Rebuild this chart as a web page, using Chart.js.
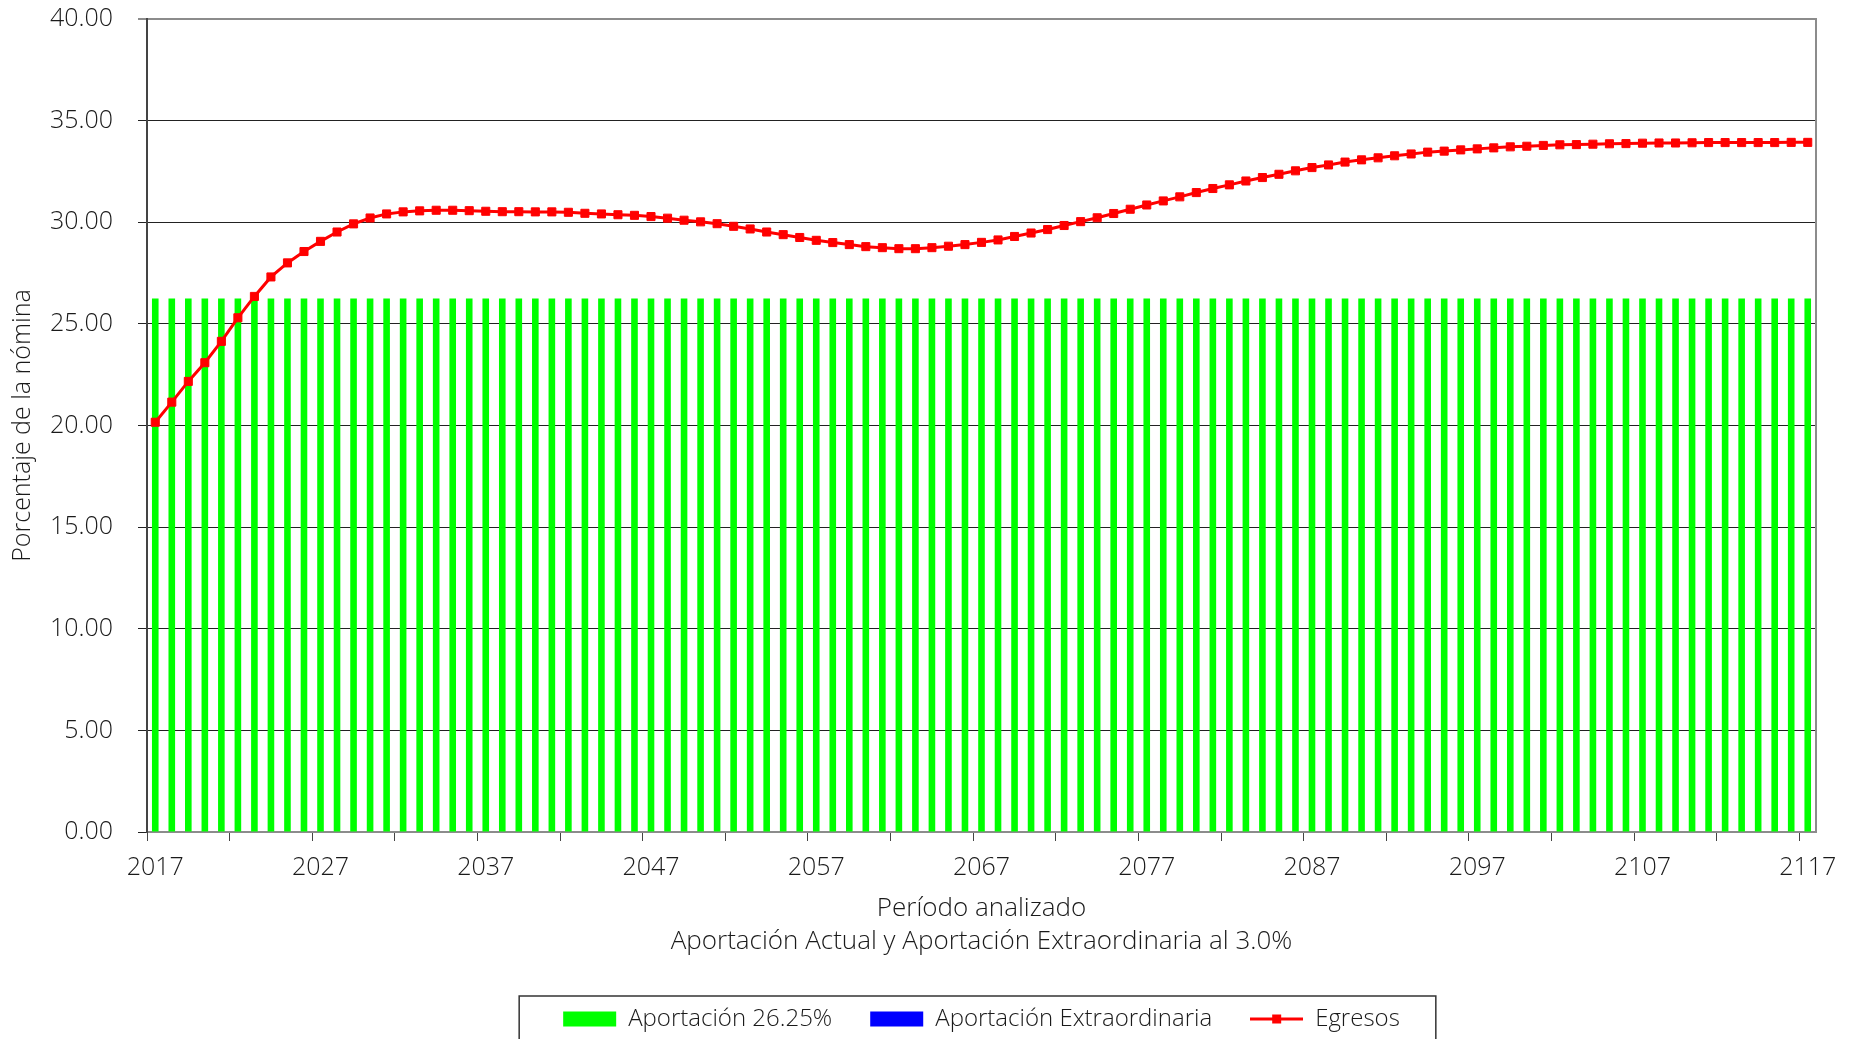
<!DOCTYPE html>
<html>
<head>
<meta charset="utf-8">
<script src="https://cdn.jsdelivr.net/npm/chart.js@4"></script>
<style>
  html, body { margin: 0; padding: 0; background: #fff; }
  #wrap { width: 1858px; height: 1039px; }
</style>
</head>
<body>
<div id="wrap"><canvas id="grafica"></canvas></div>
<script>
// años del periodo analizado
var anios = [];
for (var a = 2017; a <= 2117; a++) anios.push(String(a));

// aportación actual (26.25% constante)
var aportacion = anios.map(function () { return 26.25; });
// aportación extraordinaria (no se aprecia en la gráfica)
var extraordinaria = anios.map(function () { return 0; });

// egresos como porcentaje de la nómina
var egresos = [
  20.16, 21.15, 22.17, 23.09, 24.14, 25.30, 26.35, 27.31, 28.00, 28.56,
  29.06, 29.52, 29.92, 30.21, 30.41, 30.51, 30.56, 30.59, 30.59, 30.57,
  30.54, 30.52, 30.52, 30.51, 30.51, 30.49, 30.44, 30.41, 30.37, 30.34,
  30.28, 30.20, 30.10, 30.02, 29.93, 29.80, 29.67, 29.52, 29.39, 29.25,
  29.11, 29.00, 28.90, 28.80, 28.75, 28.70, 28.70, 28.75, 28.82, 28.90,
  29.01, 29.13, 29.30, 29.47, 29.64, 29.84, 30.03, 30.22, 30.43, 30.64,
  30.85, 31.05, 31.25, 31.46, 31.66, 31.84, 32.03, 32.20, 32.36, 32.53,
  32.69, 32.82, 32.96, 33.07, 33.17, 33.27, 33.36, 33.45, 33.50, 33.56,
  33.61, 33.66, 33.71, 33.74, 33.78, 33.81, 33.82, 33.84, 33.86, 33.87,
  33.89, 33.90, 33.90, 33.91, 33.92, 33.92, 33.92, 33.92, 33.92, 33.93,
  33.93
];

var fuente = "'Open Sans', 'DejaVu Sans', sans-serif";

// icono de la leyenda para la línea con marcador cuadrado
function iconoLinea() {
  var c = document.createElement("canvas");
  c.width = 53; c.height = 15;
  var g = c.getContext("2d");
  g.fillStyle = "#ff0000";
  g.fillRect(0, 6, 53, 3);
  g.fillRect(22, 3, 9, 9);
  return c;
}
var icono = iconoLinea();

// borde derecho del área y recuadro de la leyenda
var marco = {
  id: "marco",
  afterDraw: function (chart) {
    var ctx = chart.ctx, area = chart.chartArea;
    ctx.save();
    ctx.strokeStyle = "#8c8c8c";
    ctx.lineWidth = 2;
    ctx.beginPath();
    ctx.moveTo(area.right, area.top - 1);
    ctx.lineTo(area.right, area.bottom);
    ctx.stroke();

    var cajas = chart.legend.legendHitBoxes;
    if (cajas && cajas.length) {
      var izq = cajas[0].left - 44;
      var ult = cajas[cajas.length - 1];
      var der = ult.left + ult.width + 36;
      var arriba = cajas[0].top - 11;
      ctx.strokeStyle = "#333";
      ctx.lineWidth = 1.5;
      ctx.strokeRect(izq, arriba, der - izq, chart.height + 10 - arriba);
    }
    ctx.restore();
  }
};

var ctx = document.getElementById("grafica").getContext("2d");
var grafica = new Chart(ctx, {
  type: "bar",
  data: {
    labels: anios,
    datasets: [
      {
        label: "Aportación 26.25%",
        data: aportacion,
        backgroundColor: "#00ff00",
        pointStyle: "rect",
        grouped: false,
        barPercentage: 0.4,
        categoryPercentage: 1,
        order: 2
      },
      {
        label: "Aportación Extraordinaria",
        data: extraordinaria,
        backgroundColor: "#0000ff",
        pointStyle: "rect",
        grouped: false,
        barPercentage: 0.4,
        categoryPercentage: 1,
        order: 1
      },
      {
        type: "line",
        label: "Egresos",
        data: egresos,
        borderColor: "#ff0000",
        backgroundColor: "#ff0000",
        borderWidth: 3,
        pointStyle: "rect",
        pointRadius: 5.7,
        pointBorderWidth: 1,
        tension: 0,
        order: 0
      }
    ]
  },
  options: {
    responsive: true,
    maintainAspectRatio: false,
    animation: false,
    layout: { padding: { left: 0, right: 42, top: 0, bottom: 0 } },
    scales: {
      x: {
        offset: true,
        afterFit: function (scale) { scale.height = 137; },
        grid: {
          offset: true,
          drawOnChartArea: false,
          drawTicks: true,
          tickLength: 9,
          color: function (c) { return (c.index !== undefined && c.index % 5 === 0) ? "#444" : "rgba(0,0,0,0)"; },
          tickColor: function (c) { return (c.index !== undefined && c.index % 5 === 0) ? "#444" : "rgba(0,0,0,0)"; }
        },
        border: { color: "#8c8c8c", width: 2 },
        ticks: {
          autoSkip: false,
          maxRotation: 0,
          padding: 12,
          color: "#1a1a1a",
          font: { family: fuente, size: 25, weight: "300" },
          callback: function (v, i) { return i % 10 === 0 ? anios[i] : ""; }
        },
        title: {
          display: true,
          text: ["Período analizado", "Aportación Actual y Aportación Extraordinaria al 3.0%"],
          color: "#1a1a1a",
          font: { family: fuente, size: 26, weight: "300", lineHeight: 1.27 },
          padding: { top: 0, bottom: 11 }
        }
      },
      y: {
        min: 0,
        max: 40,
        afterFit: function (scale) {
          scale.width = 147;
          scale.paddingTop = 19;
          scale.paddingBottom = 0;
        },
        grid: {
          tickLength: 9,
          color: function (c) { return c.tick && c.tick.value === 40 ? "#8c8c8c" : "#222"; },
          lineWidth: function (c) { return c.tick && c.tick.value === 40 ? 2 : 1; }
        },
        border: { color: "#444", width: 2 },
        ticks: {
          stepSize: 5,
          padding: 25,
          color: "#1a1a1a",
          font: { family: fuente, size: 25, weight: "300" },
          callback: function (v) { return Number(v).toFixed(2); }
        },
        title: {
          display: true,
          text: "Porcentaje de la nómina",
          color: "#1a1a1a",
          font: { family: fuente, size: 25, weight: "300" },
          padding: { top: 8, bottom: 0 }
        }
      }
    },
    plugins: {
      legend: {
        position: "bottom",
        fullSize: false,
        maxHeight: 70,
        labels: {
          usePointStyle: true,
          pointStyleWidth: 53,
          boxHeight: 15,
          padding: 38,
          color: "#1a1a1a",
          font: { family: fuente, size: 24, weight: "300" },
          sort: function (a, b) { return a.datasetIndex - b.datasetIndex; },
          generateLabels: function (chart) {
            var items = Chart.defaults.plugins.legend.labels.generateLabels(chart);
            items.forEach(function (it) {
              if (it.datasetIndex === 2) it.pointStyle = icono;
            });
            return items;
          }
        }
      },
      tooltip: { enabled: false }
    }
  },
  plugins: [marco]
});
</script>
</body>
</html>
